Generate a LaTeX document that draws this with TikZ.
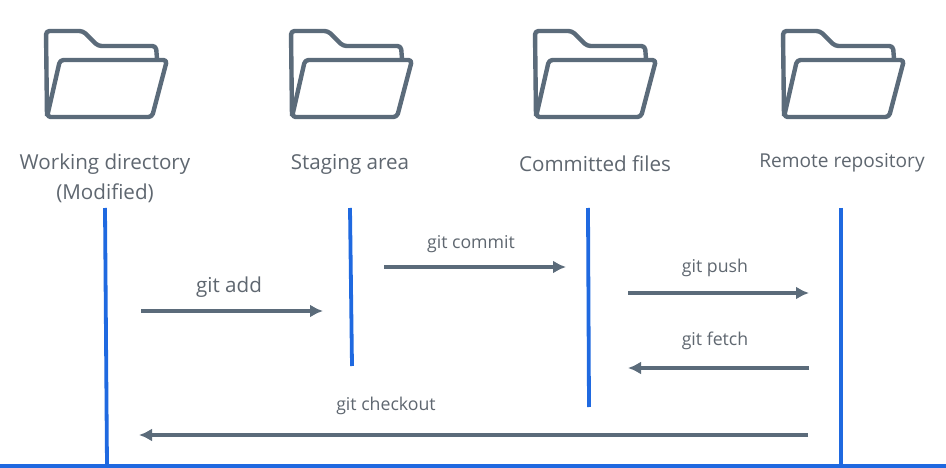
\documentclass[tikz,border=0pt]{standalone}
\usepackage{fontspec}
\setmainfont{Open Sans}
\usetikzlibrary{arrows.meta}
\definecolor{slatec}{HTML}{5B6B7A}
\definecolor{textc}{HTML}{5F6770}
\definecolor{bluec}{HTML}{1F69E0}
\tikzset{
  foldericon/.pic={
    \draw[slatec,line width=4.4pt,line join=round,rounded corners=3.5pt]
      (1,-1) -- (0,-86) -- (37,-86) -- (52,-71) -- (110,-71) -- (111,-58);
    \draw[slatec,line width=4.4pt,line join=round,rounded corners=3.5pt]
      (1,0) -- (14,-57) -- (121,-57) -- (106,0) -- cycle;
  },
  lane/.style={bluec,line width=3.8pt},
  flow/.style={slatec,line width=3.2pt,-{Latex[length=13pt,width=13pt]}},
  head/.style={text=textc,font=\fontsize{20.6}{30}\selectfont,align=center},
  cmd/.style={text=textc,font=\fontsize{17.7}{20}\selectfont},
}
\begin{document}
\begin{tikzpicture}[x=1pt,y=-1pt]
\useasboundingbox (0,0) rectangle (946,468);
\fill[white] (0,0) rectangle (946,468);
\pic at (46,117) {foldericon};
\pic at (291,117) {foldericon};
\pic at (535,117) {foldericon};
\pic at (783,117) {foldericon};
\node[head] (h1) at (105,178) {Working directory\\(Modified)};
\node[head] (h2) at (350,164) {Staging area};
\node[head] (h3) at (595,164) {Committed files};
\node[head,font=\fontsize{19.1}{30}\selectfont] (h4) at (842,163) {Remote repository};
\coordinate (l1a) at (105,208); \coordinate (l1b) at (107,466);
\coordinate (l2a) at (350,208); \coordinate (l2b) at (352,366);
\coordinate (l3a) at (588,208); \coordinate (l3b) at (589,407);
\coordinate (l4a) at (841,208); \coordinate (l4b) at (841,466);
\coordinate (b0) at (0,466); \coordinate (b1) at (946,466);
\draw[lane] (l1a) -- (l1b);
\draw[lane] (l2a) -- (l2b);
\draw[lane] (l3a) -- (l3b);
\draw[lane] (l4a) -- (l4b);
\draw[lane] (b0) -- (b1);
\coordinate (a1s) at (141,311); \coordinate (a1e) at (323,311);
\coordinate (a2s) at (384,267); \coordinate (a2e) at (566,267);
\coordinate (a3s) at (628,293); \coordinate (a3e) at (809,293);
\coordinate (a4s) at (809,368); \coordinate (a4e) at (628,368);
\coordinate (a5s) at (808,435); \coordinate (a5e) at (139,435);
\draw[flow] (a1s) -- (a1e);
\draw[flow] (a2s) -- (a2e);
\draw[flow] (a3s) -- (a3e);
\draw[flow] (a4s) -- (a4e);
\draw[flow] (a5s) -- (a5e);
\node[head] (c1) at (229,287) {git add};
\node[cmd] (c2) at (471,244) {git commit};
\node[cmd] (c3) at (715,268) {git push};
\node[cmd] (c4) at (715,341) {git fetch};
\node[cmd] (c5) at (386,406) {git checkout};
\end{tikzpicture}
\end{document}
